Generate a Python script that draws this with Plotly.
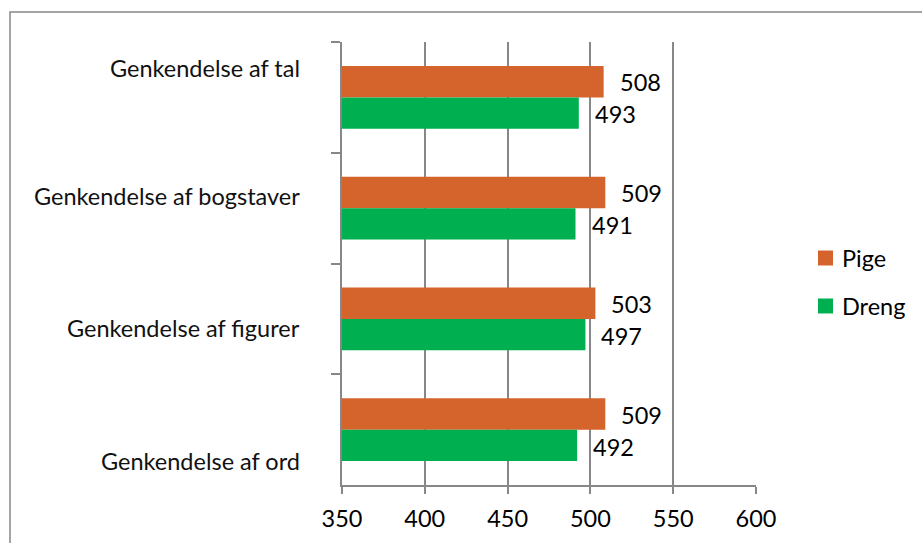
import plotly.graph_objects as go

# Recognition scores by task and gender
categories = [
    "Genkendelse af tal",
    "Genkendelse af bogstaver",
    "Genkendelse af figurer",
    "Genkendelse af ord",
]
series_names = ["Pige", "Dreng"]
pige = [508, 509, 503, 509]
dreng = [493, 491, 497, 492]
x_ticks = [350, 400, 450, 500, 550, 600]

ORANGE = "#D4632C"
GREEN = "#00B050"
GRID = "#878787"
FONT = "Lato"

fig = go.Figure()
fig.add_trace(go.Bar(
    y=categories, x=pige, name=series_names[0], orientation="h",
    marker=dict(color=ORANGE, line=dict(width=0)), showlegend=False,
))
fig.add_trace(go.Bar(
    y=categories, x=dreng, name=series_names[1], orientation="h",
    marker=dict(color=GREEN, line=dict(width=0)), showlegend=False,
))

annotations = []
# value labels just past each bar end
for cat, p, d in zip(categories, pige, dreng):
    annotations.append(dict(x=p, y=cat, xref="x", yref="y", text=str(p),
                            showarrow=False, xanchor="left", xshift=14, yshift=15,
                            font=dict(size=23.5, color="#000000", family=FONT)))
    annotations.append(dict(x=d, y=cat, xref="x", yref="y", text=str(d),
                            showarrow=False, xanchor="left", xshift=14, yshift=-17,
                            font=dict(size=23.5, color="#000000", family=FONT)))

# category labels, right-aligned left of the plot
cat_shift = [29, 12, -9, -31]
for cat, s in zip(categories, cat_shift):
    annotations.append(dict(x=-0.0966, y=cat, xref="paper", yref="y", text=cat,
                            showarrow=False, xanchor="right", yshift=s,
                            font=dict(size=23.5, color="#111111", family=FONT)))

# legend: colour swatches with series names to the right of the plot
shapes = [dict(type="rect", xref="paper", yref="paper",
               x0=-0.8019, x1=1.41, y0=-0.15, y1=1.0677,
               line=dict(color=GRID, width=1.5), layer="below")]
legend_rows = [(series_names[0], ORANGE, 0.5124), (series_names[1], GREEN, 0.4041)]
for name, color, yc in legend_rows:
    shapes.append(dict(type="rect", xref="paper", yref="paper",
                       x0=1.1498, x1=1.186, y0=yc - 0.0169, y1=yc + 0.0169,
                       fillcolor=color, line=dict(width=0)))
    annotations.append(dict(x=1.2029, y=yc, xref="paper", yref="paper", text=name,
                            showarrow=False, xanchor="left", yanchor="middle",
                            font=dict(size=23.5, color="#000000", family=FONT)))

fig.update_layout(
    width=922, height=543,
    margin=dict(l=342, r=166, t=42, b=58, autoexpand=False),
    paper_bgcolor="white", plot_bgcolor="white",
    barmode="group", bargap=0.435, bargroupgap=0,
    font=dict(family=FONT, size=23, color="#000000"),
    showlegend=False,
    annotations=annotations,
    shapes=shapes,
)

fig.update_xaxes(
    range=[350, 600], tickvals=x_ticks, ticktext=[str(v) for v in x_ticks],
    showgrid=True, gridcolor=GRID, gridwidth=1.5,
    showline=True, linecolor=GRID, linewidth=1.5,
    ticks="outside", ticklen=7, tickcolor=GRID, tickwidth=1.5,
    ticklabelstandoff=5,
    tickfont=dict(size=23.5, family=FONT, color="#000000"),
    zeroline=False, automargin=False,
)
fig.update_yaxes(
    autorange="reversed", categoryorder="array", categoryarray=categories,
    showticklabels=False, showgrid=False,
    showline=True, linecolor=GRID, linewidth=1.5,
    ticks="outside", ticklen=9, tickcolor=GRID, tickwidth=1.5,
    tickson="boundaries", automargin=False,
)

fig.write_html("out.html")
